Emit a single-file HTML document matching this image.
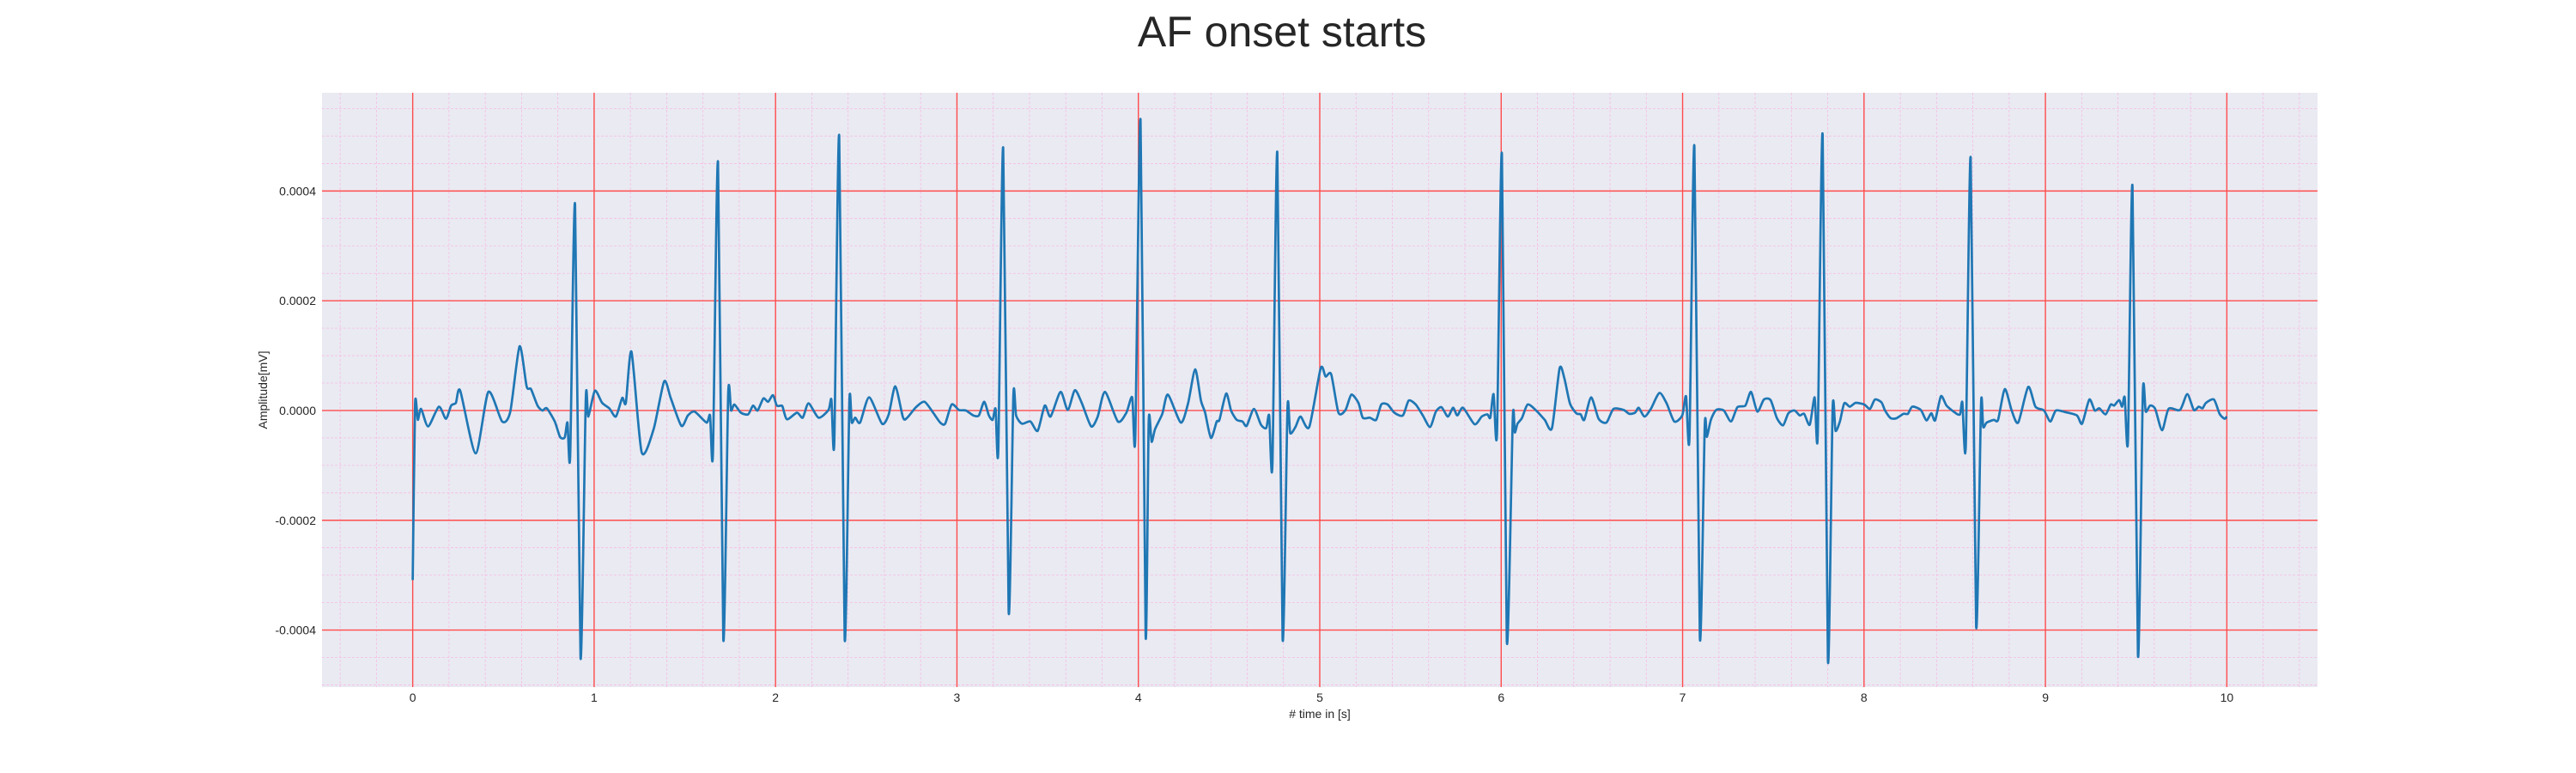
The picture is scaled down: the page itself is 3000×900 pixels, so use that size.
<!DOCTYPE html>
<html><head><meta charset="utf-8"><style>
html,body{margin:0;padding:0;background:#fff;}
svg{display:block;font-family:"Liberation Sans",Arial,sans-serif;}
</style></head><body>
<svg id="chart" width="3000" height="900" viewBox="0 0 3000 900" xmlns="http://www.w3.org/2000/svg">
<text x="1493" y="54" font-size="50" text-anchor="middle" fill="#262626">AF onset starts</text>
<rect x="375" y="108" width="2324" height="692" fill="#eaeaf2"/>
<g id="grid"></g>
<g id="ticks"></g>
<path id="ecg" fill="none" stroke="#1f77b4" stroke-width="2.7" stroke-linejoin="round"/>
<text x="1537" y="836" font-size="14" text-anchor="middle" fill="#262626"># time in [s]</text>
<text transform="translate(311,454) rotate(-90)" font-size="14" text-anchor="middle" fill="#262626">Amplitude[mV]</text>
</svg>
<script>
const xTicks = [0,1,2,3,4,5,6,7,8,9,10];
const yTicks = [-0.0004,-0.0002,0,0.0002,0.0004];
const yTickLabels = ["-0.0004","-0.0002","0.0000","0.0002","0.0004"];
const times = [0,0.013,0.028,0.046,0.085,0.144,0.183,0.212,0.238,0.262,0.347,0.417,0.493,0.538,0.589,0.628,0.652,0.688,0.715,0.739,0.783,0.812,0.838,0.853,0.868,0.895,0.925,0.954,0.968,1.004,1.044,1.084,1.120,1.155,1.175,1.206,1.262,1.328,1.386,1.423,1.481,1.517,1.554,1.620,1.639,1.655,1.683,1.712,1.739,1.755,1.773,1.809,1.849,1.876,1.901,1.933,1.959,1.986,2.007,2.031,
2.039,2.063,2.118,2.150,2.182,2.237,2.292,2.308,2.324,2.351,2.381,2.407,2.420,2.439,2.466,2.516,2.587,2.624,2.660,2.703,2.726,2.774,2.821,2.869,2.908,2.935,2.971,3.011,3.050,3.090,3.121,3.150,3.176,3.197,3.213,3.228,3.255,3.285,3.311,3.326,3.358,3.405,3.445,3.484,3.516,3.571,3.611,3.650,3.689,3.740,3.776,3.816,3.887,3.934,3.966,3.983,4.012,4.040,
4.057,4.073,4.092,4.132,4.163,4.234,4.274,4.313,4.345,4.368,4.400,4.432,4.447,4.484,4.511,4.542,4.574,4.597,4.637,4.676,4.705,4.721,4.739,4.766,4.795,4.822,4.837,4.866,4.894,4.942,5.005,5.032,5.063,5.103,5.142,5.174,5.213,5.237,5.276,5.311,5.339,5.374,5.411,5.458,5.490,5.529,5.568,5.608,5.640,5.671,5.706,5.735,5.758,5.790,5.853,5.893,5.924,5.940,5.958,5.977,6.004,6.031,
6.064,6.075,6.090,6.114,6.146,6.193,6.240,6.280,6.322,6.348,6.379,6.414,6.438,6.458,6.496,6.537,6.580,6.619,6.675,6.706,6.738,6.758,6.790,6.825,6.872,6.912,6.954,6.998,7.019,7.038,7.065,7.095,7.122,7.134,7.156,7.185,7.227,7.267,7.302,7.346,7.377,7.412,7.448,7.485,7.520,7.554,7.583,7.617,7.646,7.670,7.701,7.728,7.745,7.772,7.801,7.827,7.843,7.867,7.891,7.922,7.954,8.001,8.033,8.060,8.096,
8.116,8.147,8.179,8.218,8.242,8.266,8.313,8.344,8.371,8.392,8.424,8.455,8.502,8.529,8.542,8.561,8.588,8.618,8.645,8.657,8.676,8.716,8.739,8.776,8.814,8.850,8.905,8.945,8.992,9.027,9.058,9.111,9.174,9.202,9.242,9.272,9.297,9.332,9.360,9.379,9.406,9.423,9.437,9.455,9.480,9.510,9.537,9.553,9.577,9.605,9.643,9.679,9.742,9.782,9.818,9.845,9.866,9.885,9.929,9.960,9.987,10.0];
const amplitudes = [-3.09,0.11,-0.17,0.03,-0.29,0.07,-0.15,0.09,0.14,0.36,-0.78,0.34,-0.20,-0.02,1.17,0.44,0.39,0.09,0,0.04,-0.20,-0.48,-0.49,-0.22,-0.83,3.75,-4.50,0.20,-0.11,0.36,0.14,0.04,-0.11,0.23,0.14,1.07,-0.76,-0.34,0.53,0.22,-0.28,-0.09,-0.02,-0.22,-0.09,-0.78,4.52,-4.16,0.30,0,0.11,-0.04,-0.07,0.09,0,0.22,0.16,0.28,0.09,0.09,
0.07,-0.16,-0.04,-0.13,0.13,-0.13,0.01,0.20,-0.57,5.00,-4.15,0.16,-0.22,-0.13,-0.22,0.24,-0.24,-0.07,0.44,-0.13,-0.13,0.06,0.16,-0.04,-0.22,-0.24,0.11,0.01,0,-0.09,-0.09,0.16,-0.09,-0.17,0.03,-0.72,4.78,-3.66,0.27,-0.09,-0.24,-0.20,-0.37,0.09,-0.11,0.34,0.01,0.37,0.13,-0.29,-0.11,0.34,-0.20,-0.04,0.24,-0.50,5.29,-4.09,
-0.20,-0.57,-0.34,-0.06,0.29,-0.22,0.13,0.75,0.18,-0.04,-0.50,-0.20,-0.17,0.31,0,-0.17,-0.20,-0.28,0.03,-0.26,-0.32,-0.09,-0.99,4.70,-4.15,0.04,-0.41,-0.30,-0.11,-0.30,0.77,0.62,0.66,-0.04,0.01,0.29,0.14,-0.13,-0.13,-0.17,0.11,0.11,-0.04,-0.09,0.18,0.11,-0.09,-0.30,-0.02,0.06,-0.11,0.05,-0.09,0.05,-0.25,-0.11,-0.07,-0.13,0.30,-0.41,4.67,-4.20,
-0.14,-0.40,-0.24,-0.14,0.11,0,-0.17,-0.32,0.77,0.59,0.13,-0.05,-0.07,-0.17,0.24,-0.15,-0.22,0.03,0.01,-0.06,-0.04,0.05,-0.11,0.03,0.32,0.13,-0.20,-0.09,0.26,-0.49,4.81,-4.13,-0.29,-0.48,-0.17,0.01,0,-0.20,0.06,0.09,0.34,-0.02,0.20,0.19,-0.14,-0.27,-0.05,0,-0.09,-0.06,-0.26,0.24,-0.45,5.02,-4.55,0.03,-0.37,-0.20,0.13,0.07,0.14,0.11,0.03,0.20,0.15,
0,-0.14,-0.14,-0.06,-0.06,0.07,0.01,-0.18,-0.05,-0.18,0.26,0.09,-0.04,-0.07,0.15,-0.65,4.60,-3.92,0.11,-0.30,-0.22,-0.17,-0.17,0.39,0,-0.22,0.43,0.07,0,-0.20,0,-0.03,-0.09,-0.24,0.20,0,0.04,-0.07,0.11,0.09,0.19,0.07,0.24,-0.55,4.08,-4.46,0.32,-0.02,0.09,0.03,-0.36,0.03,0.01,0.30,0.01,0.07,0.04,0.14,0.20,-0.06,-0.15,-0.11];
const AMP_SCALE = 1e-4;

const X0=375, X1=2699, Y0=108, Y1=800;
const XMIN=-0.5, XMAX=10.5, YMIN=-0.000504, YMAX=0.000579;
function sx(t){return X0+(t-XMIN)/(XMAX-XMIN)*(X1-X0);}
function sy(v){return Y1-(v-YMIN)/(YMAX-YMIN)*(Y1-Y0);}
const NS='http://www.w3.org/2000/svg';
const grid=document.getElementById('grid');
const ticks=document.getElementById('ticks');
function line(x1,y1,x2,y2,stroke,w,dash,name){
  const l=document.createElementNS(NS,'line');
  l.setAttribute('x1',x1);l.setAttribute('y1',y1);l.setAttribute('x2',x2);l.setAttribute('y2',y2);
  l.setAttribute('stroke',stroke);l.setAttribute('stroke-width',w);
  if(dash)l.setAttribute('stroke-dasharray',dash);
  
  
  grid.appendChild(l);
}
// minor grid
for(let i=-2;i<=52;i++){const t=i*0.2; if(Math.abs(t-Math.round(t))<1e-6)continue; line(sx(t),Y0,sx(t),Y1,'#f5bde3',0.8,'3,2','minor-grid-x');}
for(let i=-10;i<=11;i++){const v=i*0.00005; if(i%4===0)continue; line(X0,sy(v),X1,sy(v),'#f5bde3',0.8,'3,2','minor-grid-y');}
// major grid
xTicks.forEach(t=>line(sx(t),Y0,sx(t),Y1,'#ff4c4c',1.4,null,'major-grid-x'));
yTicks.forEach(v=>line(X0,sy(v),X1,sy(v),'#ff4c4c',1.4,null,'major-grid-y'));
// tick labels
xTicks.forEach(t=>{
  const e=document.createElementNS(NS,'text');
  e.setAttribute('x',sx(t));e.setAttribute('y',817);e.setAttribute('font-size','14');
  e.setAttribute('text-anchor','middle');e.setAttribute('fill','#262626');
  e.textContent=String(t);
  
  
  ticks.appendChild(e);
});
yTicks.forEach((v,i)=>{
  const e=document.createElementNS(NS,'text');
  e.setAttribute('x',368);e.setAttribute('y',sy(v)+5);e.setAttribute('font-size','14');
  e.setAttribute('text-anchor','end');e.setAttribute('fill','#262626');
  e.textContent=yTickLabels[i];
  
  
  ticks.appendChild(e);
});
// signal (smoothed Catmull-Rom with mild tension)
const P=times.map((t,i)=>[sx(t),sy(amplitudes[i]*AMP_SCALE)]);
const k=0.12;
let d='M'+P[0][0].toFixed(2)+' '+P[0][1].toFixed(2);
for(let i=0;i<P.length-1;i++){
  const p0=P[Math.max(0,i-1)],p1=P[i],p2=P[i+1],p3=P[Math.min(P.length-1,i+2)];
  const c1=[p1[0]+(p2[0]-p0[0])*k,p1[1]+(p2[1]-p0[1])*k];
  const c2=[p2[0]-(p3[0]-p1[0])*k,p2[1]-(p3[1]-p1[1])*k];
  d+='C'+c1[0].toFixed(2)+' '+c1[1].toFixed(2)+' '+c2[0].toFixed(2)+' '+c2[1].toFixed(2)+' '+p2[0].toFixed(2)+' '+p2[1].toFixed(2);
}
document.getElementById('ecg').setAttribute('d',d);
</script>
</body></html>
